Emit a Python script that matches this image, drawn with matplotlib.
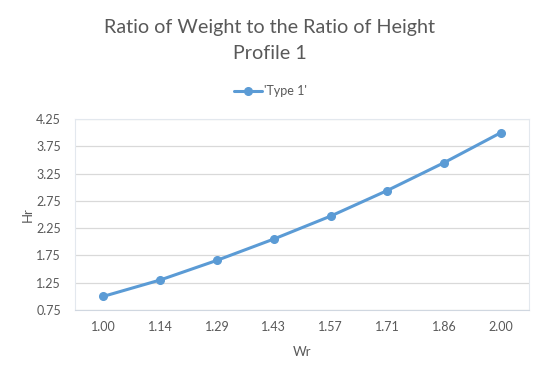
import matplotlib.pyplot as plt

wr_labels = ["1.00", "1.14", "1.29", "1.43", "1.57", "1.71", "1.86", "2.00"]
hr_values = [1.00, 1.30, 1.66, 2.05, 2.47, 2.94, 3.45, 4.00]
y_ticks = [0.75, 1.25, 1.75, 2.25, 2.75, 3.25, 3.75, 4.25]

plt.rcParams['font.family'] = ['Lato', 'DejaVu Sans']
text_col = "#595959"
blue = "#5B9BD5"

fig = plt.figure(figsize=(5.4, 3.72), dpi=100)
ax = fig.add_axes([0.139, 0.1667, 0.841, 0.5133])

x = list(range(len(wr_labels)))
ax.plot(x, hr_values, color=blue, lw=2.2, marker="o", markersize=5.5,
        label="'Type 1'", solid_capstyle="round", zorder=3)

ax.set_xlim(-0.5, len(wr_labels) - 0.5)
ax.set_ylim(0.75, 4.25)
ax.set_xticks(x)
ax.set_xticklabels(wr_labels)
ax.set_yticks(y_ticks)
ax.set_yticklabels([f"{v:.2f}" for v in y_ticks])
ax.tick_params(length=0, labelsize=9, colors=text_col, pad=8)
ax.tick_params(axis="y", pad=10)
ax.grid(axis="y", color="#D9D9D9", lw=0.9)
ax.set_axisbelow(True)
for s in ax.spines.values():
    s.set_color("#E3E8EE")
    s.set_linewidth(0.8)
ax.spines["bottom"].set_color("#D0D7E0")

ax.set_xlabel("Wr", fontsize=9.5, color=text_col, labelpad=9)
ax.set_ylabel("Hr", fontsize=9.5, color=text_col, labelpad=2)

fig.text(0.5, 0.927, "Ratio of Weight to the Ratio of Height", ha="center",
         va="center", fontsize=14.2, color=text_col)
fig.text(0.5, 0.857, "Profile 1", ha="center", va="center",
         fontsize=14.2, color=text_col)
fig.legend(loc="center", bbox_to_anchor=(0.5, 0.755), frameon=False,
           fontsize=9, labelcolor=text_col, handlelength=2.3,
           handletextpad=0.1)

fig.savefig("out.png", dpi=100)
